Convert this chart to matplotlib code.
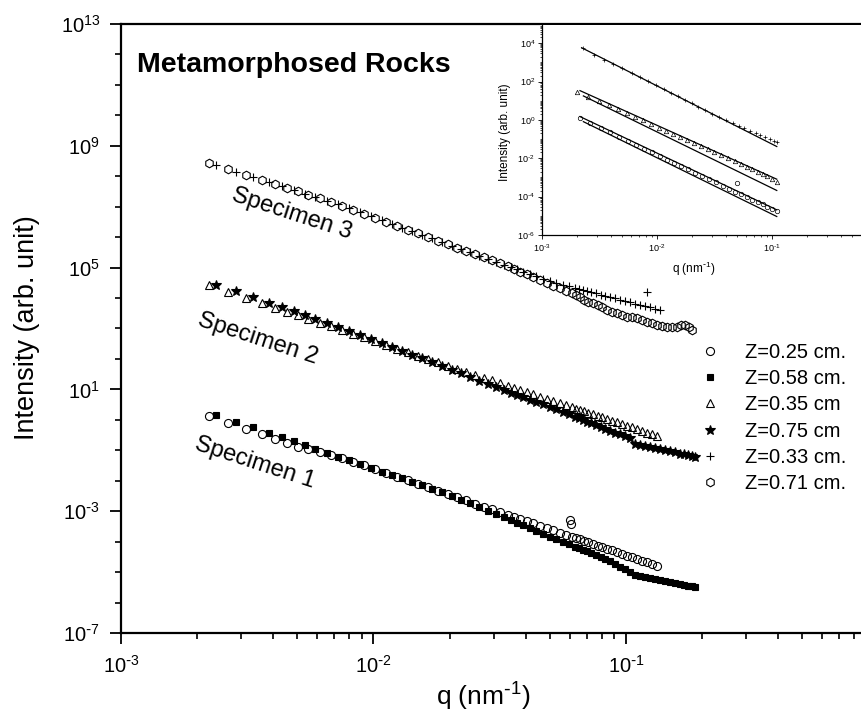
import matplotlib
matplotlib.use("Agg")
import matplotlib.pyplot as plt
from matplotlib.ticker import FixedLocator, LogLocator, NullFormatter, FuncFormatter
import numpy as np

plt.rcParams['font.family'] = ['Liberation Sans', 'DejaVu Sans']
plt.rcParams['mathtext.default'] = 'regular'

# ---------------- main panel data ----------------
# q grid used by the open-marker series (nm^-1)
q_a = [2.23e-3, 2.65e-3, 3.13e-3, 3.62e-3, 4.07e-3, 4.54e-3, 5.02e-3, 5.50e-3, 6.14e-3, 6.79e-3,
       7.51e-3, 8.30e-3, 9.17e-3, 1.01e-2, 1.12e-2, 1.24e-2, 1.37e-2, 1.50e-2, 1.64e-2, 1.80e-2,
       1.97e-2, 2.14e-2, 2.32e-2, 2.52e-2, 2.74e-2, 2.95e-2, 3.17e-2, 3.41e-2, 3.60e-2, 3.80e-2,
       4.05e-2, 4.28e-2, 4.57e-2, 4.87e-2, 5.14e-2, 5.48e-2, 5.79e-2, 6.11e-2, 6.34e-2, 6.57e-2,
       6.82e-2, 7.07e-2, 7.40e-2, 7.75e-2, 8.04e-2, 8.41e-2, 8.80e-2, 9.21e-2, 9.64e-2, 0.101,
       0.106, 0.111, 0.116, 0.121, 0.127, 0.133, 0.139, 0.145, 0.152, 0.159,
       0.165, 0.171, 0.178, 0.183]
# q grid used by the +, star and square series
q_b = [2.38e-3, 2.85e-3, 3.33e-3, 3.86e-3, 4.34e-3, 4.84e-3, 5.35e-3, 5.87e-3, 6.55e-3, 7.24e-3,
       8.00e-3, 8.84e-3, 9.77e-3, 1.08e-2, 1.18e-2, 1.30e-2, 1.42e-2, 1.56e-2, 1.71e-2, 1.87e-2,
       2.05e-2, 2.22e-2, 2.41e-2, 2.62e-2, 2.84e-2, 3.06e-2, 3.29e-2, 3.51e-2, 3.70e-2, 3.91e-2,
       4.17e-2, 4.40e-2, 4.69e-2, 5.00e-2, 5.28e-2, 5.63e-2, 5.95e-2, 6.28e-2, 6.51e-2, 6.76e-2,
       7.01e-2, 7.27e-2, 7.61e-2, 7.96e-2, 8.26e-2, 8.64e-2, 9.05e-2, 9.47e-2, 9.91e-2, 0.104,
       0.109, 0.114, 0.119, 0.125, 0.130, 0.136, 0.143, 0.149, 0.156, 0.164,
       0.170, 0.176, 0.183, 0.188]

# Specimen 1
I_z025 = [1.31, 0.802, 0.503, 0.332, 0.237, 0.174, 0.131, 0.107, 0.0857, 0.0700,
          0.0564, 0.0425, 0.0319, 0.0240, 0.0180, 0.0136, 0.0102, 7.86e-3, 6.07e-3, 4.68e-3,
          3.61e-3, 2.86e-3, 2.26e-3, 1.79e-3, 1.42e-3, 1.15e-3, 9.37e-4, 7.62e-4, 6.52e-4, 5.57e-4,
          4.65e-4, 3.98e-4, 3.32e-4, 2.77e-4, 2.37e-4, 1.98e-4, 1.69e-4, 1.45e-4, 1.31e-4, 1.18e-4,
          1.06e-4, 9.56e-5, 8.40e-5, 7.38e-5, 6.65e-5, 5.84e-5, 5.13e-5, 4.51e-5, 3.96e-5, 3.48e-5,
          3.05e-5, 2.68e-5, 2.36e-5, 2.07e-5, 1.82e-5, 1.60e-5]
q_z025_extra = [0.0600, 0.0605]
I_z025_extra = [5.3e-4, 3.9e-4]
I_z058 = [1.48, 0.881, 0.567, 0.375, 0.267, 0.196, 0.147, 0.114, 0.0832, 0.0625,
          0.0471, 0.0354, 0.0266, 0.0200, 0.0154, 0.0119, 9.18e-3, 7.08e-3, 5.47e-3, 4.22e-3,
          3.21e-3, 2.42e-3, 1.82e-3, 1.37e-3, 1.03e-3, 8.01e-4, 6.22e-4, 4.99e-4, 4.12e-4, 3.41e-4,
          2.74e-4, 2.26e-4, 1.81e-4, 1.46e-4, 1.22e-4, 9.86e-5, 8.26e-5, 6.92e-5, 6.14e-5, 5.46e-5,
          4.84e-5, 4.30e-5, 3.70e-5, 3.16e-5, 2.71e-5, 2.24e-5, 1.84e-5, 1.52e-5, 1.26e-5, 1.03e-5,
          7.80e-6, 7.23e-6, 6.75e-6, 6.25e-6, 5.81e-6, 5.38e-6, 5.02e-6, 4.66e-6, 4.32e-6, 4.04e-6,
          3.80e-6, 3.57e-6, 3.39e-6, 3.24e-6]

# Specimen 2
I_z035 = [2.61e4, 1.61e4, 1.02e4, 6.79e3, 4.88e3, 3.60e3, 2.72e3, 2.11e3, 1.56e3, 1.18e3,
          8.90e2, 6.73e2, 5.09e2, 3.85e2, 2.91e2, 2.20e2, 1.66e2, 1.29e2, 1.00e2, 77.6,
          60.2, 47.9, 38.1, 30.3, 24.1, 19.7, 16.1, 13.1, 11.3, 9.67,
          8.09, 6.95, 5.82, 4.87, 4.18, 3.50, 3.01, 2.58, 2.33, 2.10,
          1.90, 1.72, 1.51, 1.33, 1.20, 1.06, 0.933, 0.822, 0.724, 0.638,
          0.561, 0.495, 0.436, 0.384, 0.338, 0.298]
I_z075 = [2.74e4, 1.65e4, 1.07e4, 7.13e3, 5.13e3, 3.78e3, 2.79e3, 2.12e3, 1.52e3, 1.12e3,
          8.22e2, 6.08e2, 4.44e2, 3.25e2, 2.45e2, 1.84e2, 1.38e2, 1.04e2, 78.4, 58.6,
          43.6, 33.4, 25.6, 19.6, 15.1, 12.0, 9.60, 7.90, 6.67, 5.65,
          4.65, 3.93, 3.23, 2.65, 2.22, 1.80, 1.51, 1.26, 1.11, 0.989,
          0.877, 0.778, 0.670, 0.578, 0.513, 0.444, 0.384, 0.332, 0.287, 0.248,
          0.161, 0.149, 0.137, 0.127, 0.117, 0.108, 0.100, 0.0920, 0.0847, 0.0785,
          0.0733, 0.0690, 0.0646, 0.0617]

# Specimen 3
I_z033 = [2.31e8, 1.42e8, 9.38e7, 6.38e7, 4.65e7, 3.48e7, 2.67e7, 2.10e7, 1.56e7, 1.20e7,
          8.85e6, 6.55e6, 4.84e6, 3.57e6, 2.72e6, 2.06e6, 1.57e6, 1.19e6, 9.03e5, 6.82e5,
          5.20e5, 4.08e5, 3.18e5, 2.48e5, 1.93e5, 1.55e5, 1.24e5, 1.03e5, 8.73e4, 7.39e4,
          6.07e4, 5.18e4, 4.26e4, 3.52e4, 3.12e4, 2.72e4, 2.43e4, 2.15e4, 2.00e4, 1.84e4,
          1.71e4, 1.57e4, 1.42e4, 1.29e4, 1.19e4, 1.08e4, 9.81e3, 8.89e3, 8.05e3, 7.31e3,
          6.62e3, 6.00e3, 5.45e3, 4.93e3, 4.47e3, 4.06e3]
q_z033_extra = [0.121]
I_z033_extra = [1.62e4]
I_z071 = [2.72e8, 1.72e8, 1.12e8, 7.53e7, 5.52e7, 4.11e7, 3.16e7, 2.48e7, 1.86e7, 1.43e7,
          1.08e7, 7.96e6, 5.89e6, 4.36e6, 3.21e6, 2.38e6, 1.76e6, 1.33e6, 1.01e6, 7.64e5,
          5.82e5, 4.54e5, 3.53e5, 2.75e5, 2.16e5, 1.72e5, 1.38e5, 1.11e5, 8.67e4, 7.33e4,
          6.03e4, 5.02e4, 3.92e4, 3.05e4, 2.58e4, 2.09e4, 1.71e4, 1.43e4, 1.26e4, 1.11e4,
          8.95e3, 7.59e3, 6.73e3, 5.92e3, 4.90e3, 4.06e3, 3.56e3, 3.16e3, 2.77e3, 2.44e3,
          2.30e3, 2.16e3, 1.90e3, 1.67e3, 1.48e3, 1.30e3, 1.21e3, 1.15e3, 1.15e3, 1.15e3,
          1.26e3, 1.30e3, 1.12e3, 8.93e2]

legend_labels = ["Z=0.25 cm.", "Z=0.58 cm.", "Z=0.35 cm", "Z=0.75 cm", "Z=0.33 cm.", "Z=0.71 cm."]
specimen_labels = ["Specimen 1", "Specimen 2", "Specimen 3"]

# ---------------- inset data (with power-law fits) ----------------
ins_q3 = [2.29e-3, 2.82e-3, 3.47e-3, 4.17e-3, 5.01e-3, 6.03e-3, 7.08e-3, 8.32e-3, 9.77e-3, 1.15e-2,
          1.32e-2, 1.51e-2, 1.74e-2, 2.00e-2, 2.29e-2, 2.63e-2, 3.02e-2, 3.47e-2, 3.98e-2, 4.57e-2,
          5.13e-2, 5.75e-2, 6.46e-2, 7.24e-2, 7.94e-2, 8.71e-2, 9.55e-2, 0.105, 0.110]
ins_I3 = [5.4e3, 2.5e3, 1.4e3, 8.3e2, 4.8e2, 2.75e2, 1.7e2, 1.05e2, 63, 40,
          26, 17, 11.2, 7.4, 4.9, 3.2, 2.1, 1.45, 0.98, 0.68,
          0.49, 0.36, 0.27, 0.20, 0.16, 0.126, 0.100, 0.079, 0.068]
ins_q2 = [2.0e-3, 2.51e-3, 3.16e-3, 3.80e-3, 4.57e-3, 5.50e-3, 6.46e-3, 7.59e-3, 8.91e-3, 1.05e-2,
          1.20e-2, 1.38e-2, 1.58e-2, 1.82e-2, 2.09e-2, 2.40e-2, 2.75e-2, 3.16e-2, 3.63e-2, 4.17e-2,
          4.79e-2, 5.37e-2, 6.03e-2, 6.76e-2, 7.59e-2, 8.32e-2, 9.12e-2, 0.100, 0.110]
ins_I2 = [29.5, 16.6, 9.3, 5.75, 3.55, 2.19, 1.45, 0.955, 0.617, 0.398,
          0.275, 0.191, 0.132, 0.0912, 0.0631, 0.0437, 0.0302, 0.0209, 0.0145, 0.0100,
          6.9e-3, 5.0e-3, 3.7e-3, 2.75e-3, 2.04e-3, 1.58e-3, 1.20e-3, 8.3e-4, 5.6e-4]
ins_q1 = [2.14e-3, 2.63e-3, 3.24e-3, 3.89e-3, 4.68e-3, 5.62e-3, 6.61e-3, 7.76e-3, 9.12e-3, 1.07e-2,
          1.23e-2, 1.41e-2, 1.62e-2, 1.86e-2, 2.14e-2, 2.45e-2, 2.82e-2, 3.24e-2, 3.72e-2, 4.27e-2,
          4.79e-2, 5.37e-2, 6.03e-2, 6.76e-2, 7.59e-2, 8.32e-2, 9.12e-2, 0.100, 0.110, 0.0493]
ins_I1 = [1.23, 0.69, 0.38, 0.224, 0.132, 0.0794, 0.0501, 0.0316, 0.0200, 0.0126,
          8.5e-3, 5.75e-3, 3.9e-3, 2.63e-3, 1.78e-3, 1.20e-3, 8.1e-4, 5.5e-4, 3.7e-4, 2.5e-4,
          1.82e-4, 1.32e-4, 9.5e-5, 6.9e-5, 5.0e-5, 3.9e-5, 3.0e-5, 2.3e-5, 1.74e-5, 5.0e-4]

fit3_q, fit3_I = [2.21e-3, 0.110], [5.8e3, 0.041]
fit2a_q, fit2a_I = [2.14e-3, 0.110], [33.6, 8.1e-4]
fit2b_q, fit2b_I = [2.29e-3, 0.110], [17.8, 2.1e-4]
fit1a_q, fit1a_I = [2.14e-3, 0.110], [1.49, 2.05e-5]
fit1b_q, fit1b_I = [2.29e-3, 0.110], [0.81, 9.2e-6]

# ---------------- figure ----------------
W, H = 862, 715
fig = plt.figure(figsize=(W / 100, H / 100), dpi=100)


def fx(px):
    return px / W


def fy(py):
    return 1 - py / H


def pow_label(v, _pos):
    e = int(round(np.log10(v)))
    if e < 0:
        return r'$\mathregular{10^{\text{-}%d}}$' % (-e)
    return r'$\mathregular{10^{%d}}$' % e


ax = fig.add_axes([fx(121), fy(633), fx(W) - fx(121), fy(24) - fy(633)])
ax.set_xscale('log')
ax.set_yscale('log')
ax.set_xlim(1e-3, 10 ** (-3 + 741 / 252.5))
ax.set_ylim(1e-7, 1e13)

common = dict(ls='none', mec='black', color='black', mew=0.8)
ax.plot(q_a[:56] + q_z025_extra, I_z025 + I_z025_extra, marker='o', ms=5.8, mfc='none',
        label=legend_labels[0], **common)
ax.plot(q_b, I_z058, marker='s', ms=5.0, mfc='black', label=legend_labels[1], **common)
ax.plot(q_a[:56], I_z035, marker='^', ms=6.2, mfc='none', label=legend_labels[2], **common)
ax.plot(q_b, I_z075, marker='*', ms=7.5, mfc='black', label=legend_labels[3], **common)
ax.plot(q_b[:56] + q_z033_extra, I_z033 + I_z033_extra, marker='+', ms=6.0,
        label=legend_labels[4], **common)
ax.plot(q_a, I_z071, marker='h', ms=6.2, mfc='none', label=legend_labels[5], **common)

ax.xaxis.set_major_locator(FixedLocator([1e-3, 1e-2, 1e-1, 1.0]))
ax.xaxis.set_minor_locator(LogLocator(base=10, subs=np.arange(2, 10), numticks=30))
ax.xaxis.set_major_formatter(FuncFormatter(pow_label))
ax.xaxis.set_minor_formatter(NullFormatter())
ax.yaxis.set_major_locator(FixedLocator([10.0 ** k for k in (-7, -3, 1, 5, 9, 13)]))
ax.yaxis.set_minor_locator(FixedLocator([10.0 ** k for k in range(-7, 14) if (k + 7) % 4]))
ax.yaxis.set_major_formatter(FuncFormatter(pow_label))
ax.yaxis.set_minor_formatter(NullFormatter())

ax.tick_params(which='both', direction='out', top=False, right=False)
ax.tick_params(which='major', length=8, width=1.3, labelsize=14.5)
ax.tick_params(axis='y', which='major', pad=7)
ax.tick_params(axis='x', which='major', pad=8)
ax.tick_params(which='minor', length=4.5, width=1.2)
for side in ('left', 'bottom', 'top'):
    ax.spines[side].set_linewidth(1.6)
ax.spines['right'].set_visible(False)

leg = ax.legend(loc='upper left', bbox_to_anchor=(fx(700), fy(343)), bbox_transform=fig.transFigure,
                frameon=False, fontsize=14.5, handlelength=1.0, handletextpad=1.25,
                labelspacing=0.36, borderpad=0, borderaxespad=0, numpoints=1)

fig.text(fx(137), fy(72), 'Metamorphosed Rocks', fontsize=20.5, fontweight='bold',
         ha='left', va='baseline')
fig.text(fx(255), fy(463), specimen_labels[0], fontsize=17, rotation=-18, ha='center', va='center')
fig.text(fx(258), fy(339), specimen_labels[1], fontsize=17, rotation=-18, ha='center', va='center')
fig.text(fx(292), fy(214), specimen_labels[2], fontsize=17, rotation=-18, ha='center', va='center')

fig.text(fx(27), fy(328), 'Intensity (arb. unit)', fontsize=19.5, rotation=90,
         ha='center', va='center')
fig.text(fx(483), fy(697), r'q (nm$^{\text{-}1}$)', fontsize=19, ha='center', va='center')

# ---------------- inset ----------------
ins = fig.add_axes([fx(542), fy(235), fx(W) - fx(542), fy(25) - fy(235)])
ins.set_facecolor('white')
ins.set_xscale('log')
ins.set_yscale('log')
ins.set_xlim(1e-3, 10 ** (-3 + 320 / 115))
ins.set_ylim(1e-6, 10 ** (4 + 18.2 / 19.2))

small = dict(ls='none', color='black', mec='black', mew=0.5)
ins.plot(ins_q1, ins_I1, marker='o', ms=3.2, mfc='none', **small)
ins.plot(ins_q2, ins_I2, marker='^', ms=3.2, mfc='none', **small)
ins.plot(ins_q3, ins_I3, marker='+', ms=3.5, **small)
for fq, fI in ((fit3_q, fit3_I), (fit2a_q, fit2a_I), (fit2b_q, fit2b_I),
               (fit1a_q, fit1a_I), (fit1b_q, fit1b_I)):
    ins.plot(fq, fI, color='black', lw=0.9)

ins.xaxis.set_major_locator(FixedLocator([1e-3, 1e-2, 1e-1, 1.0]))
ins.xaxis.set_minor_locator(LogLocator(base=10, subs=np.arange(2, 10), numticks=30))
ins.xaxis.set_major_formatter(FuncFormatter(pow_label))
ins.xaxis.set_minor_formatter(NullFormatter())
ins.yaxis.set_major_locator(FixedLocator([10.0 ** k for k in (-6, -4, -2, 0, 2, 4)]))
ins.yaxis.set_minor_locator(LogLocator(base=10, subs=np.arange(1, 10), numticks=40))
ins.yaxis.set_major_formatter(FuncFormatter(pow_label))
ins.yaxis.set_minor_formatter(NullFormatter())
ins.tick_params(which='both', direction='out', top=False, right=False)
ins.tick_params(which='major', length=3, width=0.6, labelsize=6.5, pad=2)
ins.tick_params(which='minor', length=1.6, width=0.5)
for side in ('left', 'bottom'):
    ins.spines[side].set_linewidth(0.9)
ins.spines['top'].set_visible(False)
ins.spines['right'].set_visible(False)

fig.text(fx(505), fy(132), 'Intensity (arb. unit)', fontsize=8.5, rotation=90,
         ha='center', va='center')
fig.text(fx(694), fy(269), r'q (nm$^{\text{-}1}$)', fontsize=8.5, ha='center', va='center')

fig.savefig('out.png', dpi=100)
